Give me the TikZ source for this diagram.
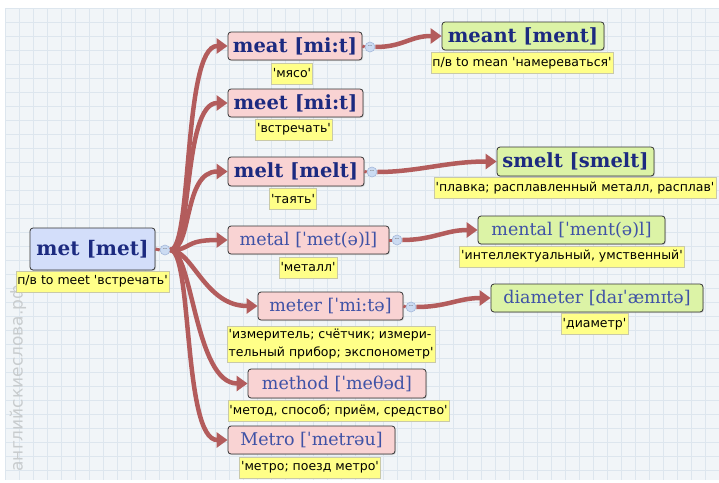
\documentclass[tikz,border=0pt]{standalone}
\usepackage{fontspec}
\setmainfont{DejaVu Serif}
\newfontfamily\lfont{DejaVu Sans}
\newfontfamily\wfont{DejaVu Serif}
\newfontfamily\wmfont{DejaVu Sans}
\usetikzlibrary{arrows.meta,shadows}
\definecolor{bgc}{HTML}{F1F5F8}
\definecolor{gridc}{HTML}{DDE6EE}
\definecolor{pinkc}{HTML}{F9D3D3}
\definecolor{greenc}{HTML}{DCF3A6}
\definecolor{bluec}{HTML}{D3DEFA}
\definecolor{yelc}{HTML}{FFFF88}
\definecolor{yelb}{HTML}{C9C9A8}
\definecolor{arrc}{HTML}{B35C5C}
\definecolor{navy}{HTML}{1C2A80}
\definecolor{lblue}{HTML}{3F52A6}
\definecolor{knobf}{HTML}{CBDBF2}
\definecolor{knobb}{HTML}{A4B8DA}
\definecolor{wmc}{HTML}{C8CCCE}
\newcommand\myq{\textquotesingle}
\tikzset{
  x=1pt, y=-1pt,
  word/.style={draw=black!80, rounded corners=3pt, line width=0.8pt, inner sep=0pt,
    minimum height=28pt, drop shadow={shadow xshift=1pt, shadow yshift=-1pt, opacity=0.25}},
  bw/.style={word, text=navy, font=\wfont\bfseries\fontsize{19.5}{22}\selectfont},
  rw/.style={word, text=lblue, font=\wfont\fontsize{17.5}{20}\selectfont},
  pinkw/.style={fill=pinkc},
  greenw/.style={fill=greenc},
  lab/.style={draw=yelb, fill=yelc, inner xsep=1.5pt, inner ysep=2pt, line width=0.6pt,
    minimum height=21pt, font=\lfont\fontsize{12.5}{18}\selectfont, text=black},
  conn/.style={draw=arrc, line width=4.5pt, -{Triangle[length=11pt,width=15pt]}},
  stub/.style={draw=arrc, line width=3pt},
  knob/.style={circle, draw=knobb, fill=knobf, minimum size=10pt, inner sep=0pt, line width=0.6pt,
    font=\lfont\fontsize{6}{6}\selectfont, text=black!60},
  wm/.style={text=wmc, font=\wmfont\fontsize{17}{17}\selectfont, rotate=90, anchor=west}
}
\begin{document}
\begin{tikzpicture}
\useasboundingbox (0,0) rectangle (719,482);
\fill[white] (0,0) rectangle (719,482);
\fill[bgc] (5,8) rectangle (719,480);
\begin{scope}
\clip (5,8) rectangle (719,480);
\foreach \i in {0,...,52} { \draw[gridc, line width=0.5pt] (5+14*\i,8) -- (5+14*\i,480); }
\foreach \j in {0,...,34} { \draw[gridc, line width=0.5pt] (5,8+14*\j) -- (719,8+14*\j); }
\end{scope}
\node[wm] (wmark) at (18,475) {английскиеслова.рф};

% root
\node[bw, fill=bluec, minimum width=125pt, minimum height=42pt, font=\wfont\bfseries\fontsize{20}{22}\selectfont] (met) at (92.5,249) {met [met]};
\node[lab] (metl) at (92.5,281.5) {п/в to meet \myq встречать\myq};
\node[knob] (metk) at (165,250) {--};

% first level
\node[bw, pinkw, minimum width=134pt] (meat) at (295,46) {meat [mi:t]};
\node[lab] (meatl) at (292,73.5) {\myq мясо\myq};
\node[knob] (meatk) at (370,47) {--};

\node[bw, pinkw, minimum width=135pt] (meet) at (295.5,103) {meet [mi:t]};
\node[lab] (meetl) at (294,129.5) {\myq встречать\myq};

\node[bw, pinkw, minimum width=136pt, minimum height=29pt] (melt) at (296,171.5) {melt [melt]};
\node[lab] (meltl) at (293,199) {\myq таять\myq};
\node[knob] (meltk) at (372,172) {--};

\node[rw, pinkw, minimum width=161pt] (metal) at (308.5,240) {metal [ˈmet(ə)l]};
\node[lab] (metall) at (308,267.5) {\myq металл\myq};
\node[knob] (metalk) at (397,240) {--};

\node[rw, pinkw, minimum width=145pt] (meter) at (330.5,306) {meter [ˈmi:tə]};
\node[lab, align=left, inner ysep=3pt] (meterl) at (331,344) {\myq измеритель; счётчик; измери-\\тельный прибор; экспонометр\myq};
\node[knob] (meterk) at (411,307) {--};

\node[rw, pinkw, minimum width=178pt, minimum height=29pt] (method) at (337,383.5) {method [ˈmeθəd]};
\node[lab] (methodl) at (338.5,410.5) {\myq метод, способ; приём, средство\myq};

\node[rw, pinkw, minimum width=167pt] (metro) at (311.5,440) {Metro [ˈmetrəu]};
\node[lab] (metrol) at (310,467.5) {\myq метро; поезд метро\myq};

% second level
\node[bw, greenw, minimum width=162pt] (meant) at (523,36) {meant [ment]};
\node[lab] (meantl) at (522,63) {п/в to mean \myq намереваться\myq};

\node[bw, greenw, minimum width=157pt, minimum height=29pt] (smelt) at (575.5,161.5) {smelt [smelt]};
\node[lab] (smeltl) at (575,188) {\myq плавка; расплавленный металл, расплав\myq};

\node[rw, greenw, minimum width=187pt] (mental) at (571.5,230) {mental [ˈment(ə)l]};
\node[lab] (mentall) at (572,256.5) {\myq интеллектуальный, умственный\myq};

\node[rw, greenw, minimum width=212pt] (diam) at (597,298) {diameter [daɪˈæmɪtə]};
\node[lab] (dial) at (594.5,324) {\myq диаметр\myq};

% stubs
\draw[stub] (met.east) -- (metk.west);
\draw[stub] (meat.east) -- (meatk.west);
\draw[stub] (melt.east) -- (meltk.west);
\draw[stub] (metal.east) -- (metalk.west);
\draw[stub] (meter.east) -- (meterk.west);

% first-level connectors
\foreach \t/\c in {meat/183, meet/183, melt/183, metal/183, meter/205, method/195, metro/183} {
  \draw[conn] (metk.east) .. controls +(22,0) and (\c,0 |- \t.west) .. (\t.west);
}
% second-level connectors
\draw[conn] (meatk.east) .. controls +(28,0) and +(-32,0) .. (meant.west);
\draw[conn] (meltk.east) .. controls +(40,0) and +(-50,0) .. (smelt.west);
\draw[conn] (metalk.east) .. controls +(30,0) and +(-32,0) .. (mental.west);
\draw[conn] (meterk.east) .. controls +(30,0) and +(-32,0) .. (diam.west);
\end{tikzpicture}
\end{document}
